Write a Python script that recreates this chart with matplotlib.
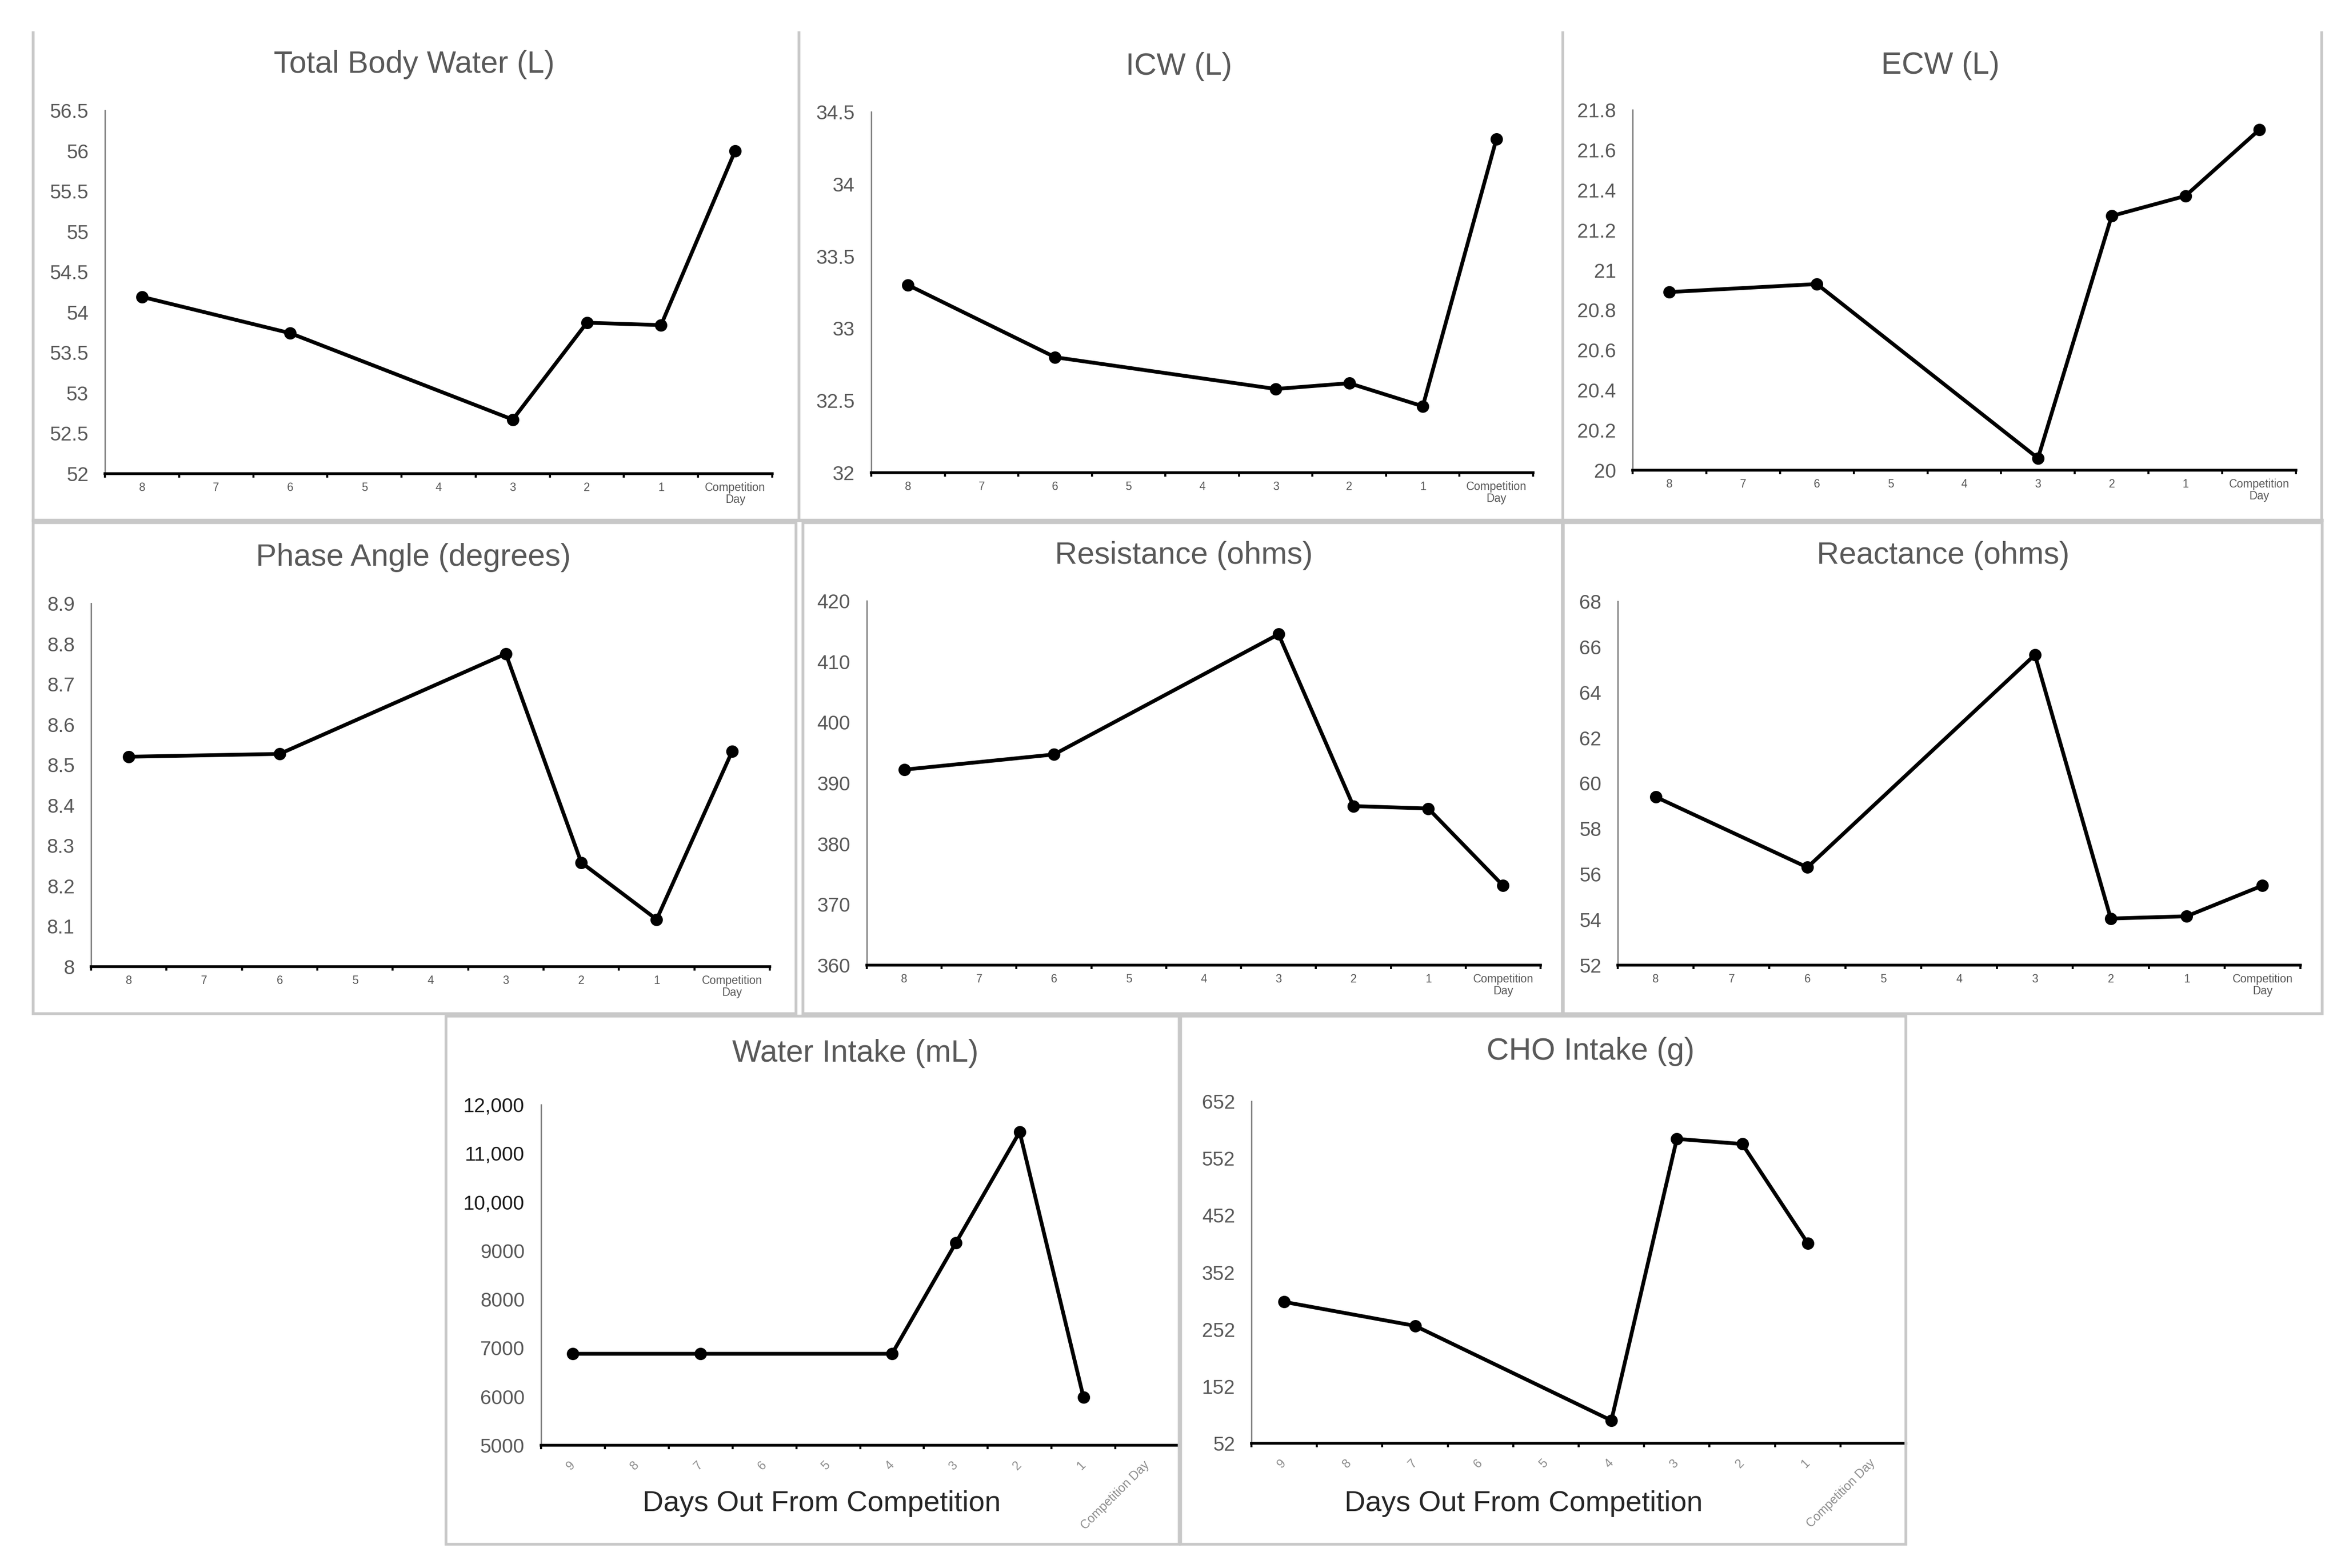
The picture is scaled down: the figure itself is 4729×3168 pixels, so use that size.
import matplotlib
matplotlib.use('Agg')
import matplotlib.pyplot as plt
from matplotlib.patches import Rectangle
from matplotlib.lines import Line2D
import numpy as np

# %% Data
days_body = ['8', '7', '6', '5', '4', '3', '2', '1', 'Competition\nDay']
body_logged = ['8', '6', '3', '2', '1', 'Competition\nDay']

tbw = [54.19, 53.74, 52.67, 53.87, 53.84, 56.0]
icw = [33.30, 32.80, 32.58, 32.62, 32.46, 34.31]
ecw = [20.89, 20.93, 20.06, 21.27, 21.37, 21.70]
phase_angle = [8.52, 8.527, 8.775, 8.258, 8.117, 8.533]
resistance = [392.2, 394.7, 414.5, 386.2, 385.8, 373.1]
reactance = [59.4, 56.3, 65.65, 54.05, 54.15, 55.5]

days_intake = ['9', '8', '7', '6', '5', '4', '3', '2', '1', 'Competition Day']
intake_logged = ['9', '7', '4', '3', '2', '1']
water_ml = [6880, 6880, 6880, 9160, 11440, 5990]
cho_g = [300, 258, 92, 586, 577, 403]

water_ticks = [5000, 6000, 7000, 8000, 9000, 10000, 11000, 12000]
water_ticklabels = ['5000', '6000', '7000', '8000', '9000', '10,000', '11,000', '12,000']
cho_ticks = [52, 152, 252, 352, 452, 552, 652]

# %% Layout (pixels of the final picture)
W, H = 4729, 3168
plt.rcParams['font.family'] = ['Liberation Sans', 'DejaVu Sans']
GREY = '#595959'

fig = plt.figure(figsize=(W / 100, H / 100), dpi=100)


def px_box(l, r, t, b):
    return [l / W, 1 - b / H, (r - l) / W, (b - t) / H]


def panel(pos, title, title_xy, cats, logged, vals, ylim, yticks, ylabels=None,
          rotated=False, xlabel_xy=None):
    ax = fig.add_axes(px_box(*pos))
    xs = [cats.index(d) for d in logged]
    ax.plot(xs, vals, color='black', lw=5.5, marker='o', ms=17, clip_on=False,
            solid_joinstyle='round')
    n = len(cats)
    ax.set_xlim(-0.5, n - 0.5)
    ax.set_ylim(*ylim)
    ax.set_yticks(yticks)
    if ylabels is None:
        ylabels = ['{:g}'.format(round(v, 3)) for v in yticks]
    ax.set_yticklabels(ylabels)
    ax.tick_params(axis='y', length=0, pad=24, labelsize=29, labelcolor=GREY)
    ax.set_xticks(range(n))
    ax.set_xticks(np.arange(-0.5, n), minor=True)
    ax.tick_params(axis='x', which='minor', length=6, width=3, color='black',
                   direction='out')
    if rotated:
        ax.set_xticklabels(cats, rotation=45, ha='right', va='center',
                           rotation_mode='anchor')
        ax.tick_params(axis='x', which='major', length=0, pad=26, labelsize=18,
                       labelcolor='#8c8c8c')
    else:
        ax.set_xticklabels(cats, linespacing=1.1)
        ax.tick_params(axis='x', which='major', length=0, pad=12, labelsize=16.5,
                       labelcolor=GREY)
    for s in ['top', 'right']:
        ax.spines[s].set_visible(False)
    ax.spines['bottom'].set_linewidth(4)
    ax.spines['bottom'].set_color('black')
    ax.spines['left'].set_linewidth(2)
    ax.spines['left'].set_color('#7f7f7f')
    ax.set_facecolor('none')
    fig.text(title_xy[0] / W, 1 - title_xy[1] / H, title, ha='center', va='center',
             fontsize=45, color=GREY)
    if xlabel_xy is not None:
        fig.text(xlabel_xy[0] / W, 1 - xlabel_xy[1] / H, 'Days Out From Competition',
                 ha='center', va='center', fontsize=42, color='#262626')
    return ax


# %% Panel frames (screenshot borders)
edge = '#c8c8c8'
for x in [67, 1614, 3157, 4690]:
    fig.add_artist(Line2D([x / W, x / W], [1 - 66 / H, 1 - 1051 / H], color=edge, lw=4))
fig.add_artist(Line2D([67 / W, 4690 / W], [1 - 1051 / H, 1 - 1051 / H], color=edge, lw=5))
for l, r, t, b in [(67, 1608, 1056, 2048), (1622, 3156, 1056, 2048), (3158, 4691, 1056, 2048),
                   (901, 2382, 2053, 3120), (2385, 3850, 2053, 3120)]:
    fig.add_artist(Rectangle((l / W, 1 - b / H), (r - l) / W, (b - t) / H,
                             transform=fig.transFigure, fill=False, ec=edge, lw=4))

# %% Top row
panel((212, 1560, 223, 957), 'Total Body Water (L)', (837, 130), days_body, body_logged,
      tbw, (52, 56.5), np.arange(52, 56.51, 0.5))
panel((1760, 3097, 226, 955), 'ICW (L)', (2381, 134), days_body, body_logged,
      icw, (32, 34.5), np.arange(32, 34.51, 0.5))
panel((3298, 4638, 222, 950), 'ECW (L)', (3920, 132), days_body, body_logged,
      ecw, (20, 21.8), np.arange(20, 21.81, 0.2))

# %% Middle row
panel((184, 1555, 1219, 1953), 'Phase Angle (degrees)', (835, 1127), days_body, body_logged,
      phase_angle, (8, 8.9), np.arange(8, 8.91, 0.1))
panel((1751, 3112, 1214, 1950), 'Resistance (ohms)', (2391, 1122), days_body, body_logged,
      resistance, (360, 420), np.arange(360, 421, 10))
panel((3268, 4647, 1215, 1950), 'Reactance (ohms)', (3925, 1122), days_body, body_logged,
      reactance, (52, 68), np.arange(52, 69, 2))

# %% Bottom row
ax_w = panel((1093, 2382, 2232, 2920), 'Water Intake (mL)', (1728, 2128), days_intake,
             intake_logged, water_ml, (5000, 12000), water_ticks, water_ticklabels,
             rotated=True, xlabel_xy=(1660, 3038))
for lab, v in zip(ax_w.get_yticklabels(), water_ticks):
    if v >= 10000:
        lab.set_color('#1a1a1a')
panel((2528, 3850, 2225, 2916), 'CHO Intake (g)', (3213, 2125), days_intake,
      intake_logged, cho_g, (52, 652), cho_ticks, rotated=True, xlabel_xy=(3078, 3038))

fig.savefig('out.png', dpi=100, facecolor='white')
